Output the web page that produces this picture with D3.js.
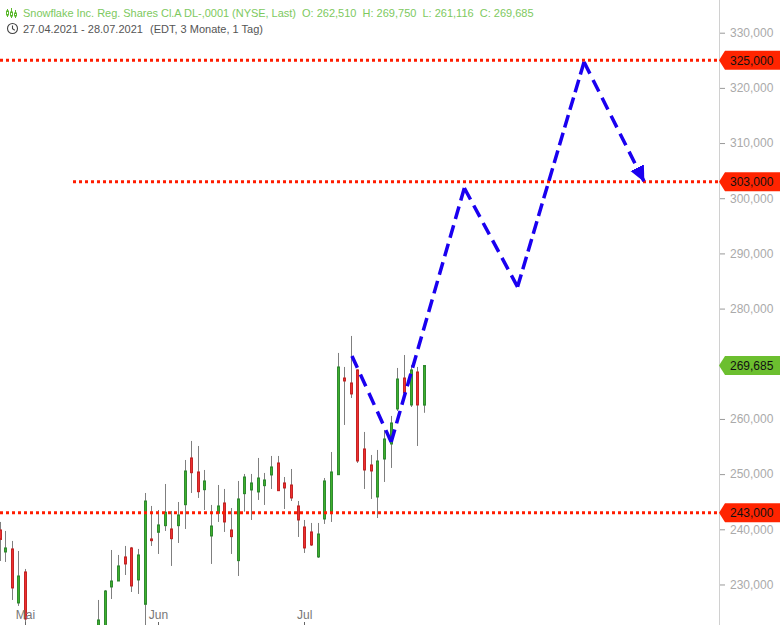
<!DOCTYPE html>
<html><head><meta charset="utf-8">
<script src="https://cdn.jsdelivr.net/npm/d3@7/dist/d3.min.js"></script>
<style>html,body{margin:0;padding:0;background:#fff}svg{display:block;font-family:"Liberation Sans",Arial,sans-serif}</style>
</head><body><svg id="c" width="780" height="625"></svg>
<script>
// index of trading day since 27.04.2021 (days 5-14 lie below the visible range)
const indices=[0,1,2,3,4,15,16,17,18,19,20,21,22,23,24,25,26,27,28,29,30,31,32,33,34,35,36,37,38,39,40,41,42,43,44,45,46,47,48,49,50,51,52,53,54,55,56,57,58,59,60,61,62,63,64];
const opens=[239.88,235.89,236.44,226.65,232.27,218.0,215.0,229.55,230.63,234.99,236.62,230.82,226.41,238.25,239.46,240.66,240.06,240.66,244.46,252.93,250.39,247.18,238.79,242.91,244.77,239.88,234.32,246.46,247.13,246.77,247.91,249.85,252.02,248.40,248.03,244.23,240.42,239.52,234.99,241.87,243.14,249.90,267.42,266.52,268.88,254.56,251.66,245.86,252.74,255.46,261.81,267.42,262.53,268.51,262.51];
const highs=[241.33,239.70,237.89,236.07,232.81,227.19,229.00,236.25,235.35,236.98,236.80,236.44,246.58,244.23,243.50,248.21,243.32,244.95,252.56,256.01,255.10,250.75,244.41,248.03,247.31,243.86,248.76,250.03,250.03,252.93,250.21,253.29,253.29,249.48,250.93,245.13,241.69,241.15,241.15,249.30,254.01,271.96,269.42,275.04,268.98,257.64,253.47,254.38,258.00,260.54,269.24,271.59,269.78,269.42,269.75];
const lows=[234.26,234.08,227.19,226.11,221.76,216.5,213.0,227.37,230.63,231.72,228.64,228.28,221.0,236.98,235.53,239.70,233.36,237.52,240.06,246.58,245.68,243.50,233.72,241.33,239.52,235.53,231.54,243.19,241.69,245.32,244.41,247.31,246.95,243.68,245.13,238.61,235.71,236.98,234.80,240.97,241.33,249.85,258.91,263.80,252.02,247.31,245.50,242.05,248.58,251.12,261.44,264.34,262.17,255.10,261.116];
const closes=[238.16,236.62,229.37,231.54,223.75,223.57,228.82,230.63,233.36,233.72,229.73,235.35,245.13,237.94,240.79,243.09,238.30,242.60,250.57,250.26,246.82,248.76,240.60,244.23,241.33,238.67,245.50,249.48,248.40,249.30,248.94,251.30,247.00,247.49,245.68,241.69,236.62,237.16,239.15,248.76,250.39,269.42,266.88,264.53,252.38,250.75,250.57,252.38,256.37,259.27,267.24,264.71,268.88,262.53,269.685];
const yTicks=[230,240,250,260,280,290,300,310,320,330];
const monthLabels=["Mai","Jun","Jul"];
const monthIndex=[4,24,46];
const levels=[325,303,243];
const lastPrice=269.685;
const zigzagX=[53.1,59,70,78,88,97];
const zigzagY=[271.41,255.83,301.85,283.94,324.69,303.1];
const title="Snowflake Inc. Reg. Shares Cl.A DL-,0001 (NYSE, Last)";
const ohlc="O: 262,510  H: 269,750  L: 261,116  C: 269,685";
const range="27.04.2021 - 28.07.2021";
const meta="(EDT, 3 Monate, 1 Tag)";

const W=780,H=625,axisX=719;
const svg=d3.select("#c");
const x=d3.scaleLinear().domain([0,64]).range([-1.15,424.45]);
const y=d3.scaleLinear().domain([330,240]).range([32.7,529.3]);
const fmtL=v=>v.toFixed(3).replace(".",",");
const px=i=>Math.max(0,Math.floor(x(i)));

const defs=svg.append("defs");
defs.append("clipPath").attr("id","plot").append("rect").attr("width",axisX).attr("height",H);
defs.append("marker").attr("id","head").attr("markerUnits","userSpaceOnUse").attr("markerWidth",16).attr("markerHeight",16)
  .attr("refX",15).attr("refY",8).attr("orient","auto").attr("viewBox","0 0 16 16")
  .append("path").attr("d","M0,0.5L16,8L0,15.5Z").attr("fill","#1a00f0");

const plot=svg.append("g").attr("clip-path","url(#plot)");

// month ticks + labels
const mg=svg.append("g").selectAll("g").data(monthIndex).join("g");
mg.append("line").attr("x1",d=>px(d)+.5).attr("x2",d=>px(d)+.5).attr("y1",622).attr("y2",625).attr("stroke","#666");
mg.append("text").attr("x",d=>x(d)).attr("y",619).attr("text-anchor","middle").attr("font-size",12).attr("fill","#777").text((d,i)=>monthLabels[i]);

// candles
const data=indices.map((d,i)=>({i:d,o:opens[i],h:highs[i],l:lows[i],c:closes[i]}));
const cg=plot.append("g").selectAll("g").data(data).join("g");
cg.append("line").attr("x1",d=>px(d.i)+.5).attr("x2",d=>px(d.i)+.5).attr("y1",d=>y(d.h)).attr("y2",d=>y(d.l)).attr("stroke","#7f7f7f").attr("stroke-width",1);
cg.append("rect").attr("x",d=>px(d.i)-.5).attr("width",2)
  .attr("y",d=>y(Math.max(d.o,d.c))).attr("height",d=>Math.max(1,Math.abs(y(d.o)-y(d.c))))
  .attr("fill",d=>d.c>=d.o?"#3fb02c":"#ee3030").attr("stroke",d=>d.c>=d.o?"#2f8a30":"#c42424").attr("stroke-width",1);

// dotted levels
plot.append("g").selectAll("line").data(levels).join("line")
  .attr("x1",d=>d===303?73:0).attr("x2",axisX)
  .attr("y1",d=>y(d)).attr("y2",d=>y(d))
  .attr("stroke","#ff1c00").attr("stroke-width",3).attr("stroke-dasharray","3 3");

// projected zigzag: one leg per pair of points, with a dash landing on each vertex
const line=d3.line().x(d=>x(d[0])).y(d=>y(d[1]));
const pts=zigzagX.map((v,i)=>[v,zigzagY[i]]);
d3.pairs(pts).forEach((leg,k,all)=>{
  const p=svg.append("path").datum(leg).attr("d",line).attr("fill","none").attr("stroke","#1a00f0").attr("stroke-width",3.5);
  const L=p.node().getTotalLength(),dash=13,n=Math.max(1,Math.round((L-dash)/19)),gap=(L-dash*(n+1))/n;
  p.attr("stroke-dasharray",`${dash} ${gap}`);
  if(k===all.length-1)p.attr("marker-end","url(#head)");
});

// axis
const axis=d3.axisRight(y).tickValues(yTicks).tickSize(5).tickPadding(5.5).tickFormat(d=>d+",000");
const ag=svg.append("g").attr("transform",`translate(${axisX+.5},0)`).call(axis);
ag.select(".domain").remove();
ag.selectAll("line").attr("stroke","#999").attr("transform","translate(0.5,0)");
ag.selectAll("text").attr("fill","#aaa").attr("font-size",12).attr("font-family","Liberation Sans");
svg.append("line").attr("x1",axisX+.5).attr("x2",axisX+.5).attr("y1",0).attr("y2",H).attr("stroke","#d0d0d0");

// price tags
const tags=levels.map(v=>({v,fill:"#ff2400"})).concat([{v:lastPrice,fill:"#6cbf2f"}]);
const tg=svg.append("g").selectAll("g").data(tags).join("g").attr("transform",d=>`translate(0,${y(d.v)})`);
tg.append("path").attr("d",`M${axisX},0L${axisX+6},-9.5H${W}V9.5H${axisX+6}Z`).attr("fill",d=>d.fill);
tg.append("text").attr("x",730).attr("y",4.5).attr("font-size",12).attr("fill","#111").text(d=>fmtL(d.v));

// header
const hd=svg.append("g").attr("font-size",11);
hd.append("text").attr("x",23).attr("y",17).attr("fill","#7dc95e").attr("letter-spacing",-0.03).text(title);
hd.append("text").attr("x",302).attr("y",17).attr("fill","#7dc95e").style("white-space","pre").text(ohlc);
hd.append("text").attr("x",23).attr("y",33).attr("fill","#555").text(range);
hd.append("text").attr("x",150).attr("y",33).attr("fill","#555").text(meta);
// icons
const ic=svg.append("g").attr("fill","none").attr("stroke","#5cb82e").attr("stroke-width",1);
[[7.5,9,17,11,15],[11.5,8,18,12,16],[15.5,10,18,13,16]].forEach(a=>{
  ic.append("line").attr("x1",a[0]).attr("x2",a[0]).attr("y1",a[1]).attr("y2",a[2]);
  ic.append("rect").attr("x",a[0]-1).attr("y",a[3]).attr("width",2).attr("height",a[4]-a[3]).attr("fill","#fff");
});
const ck=svg.append("g").attr("fill","none").attr("stroke","#444").attr("stroke-width",1.1);
ck.append("circle").attr("cx",12.5).attr("cy",28.5).attr("r",5);
ck.append("path").attr("d","M12.5,25.5V28.8L14.8,30.2");
</script></body></html>
